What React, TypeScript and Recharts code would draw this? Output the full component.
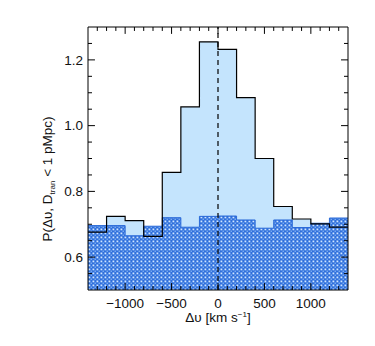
import { Area, ComposedChart, Line, ReferenceArea, ReferenceLine, XAxis, YAxis } from "recharts";

// bin left edges (km/s), last entry closes the final bin
const binEdges = [-1400, -1200, -1000, -800, -600, -400, -200, 0, 200, 400, 600, 800, 1000, 1200, 1400];
const allPairs = [0.676, 0.724, 0.711, 0.663, 0.858, 1.057, 1.255, 1.232, 1.085, 0.9, 0.754, 0.716, 0.701, 0.691];
const randomPairs = [0.696, 0.696, 0.665, 0.694, 0.72, 0.691, 0.724, 0.725, 0.713, 0.688, 0.713, 0.69, 0.703, 0.719];

const xTicks = [-1000, -500, 0, 500, 1000];
const xMinorTicks = [-1300, -1200, -1100, -900, -800, -700, -600, -400, -300, -200, -100, 100, 200, 300, 400, 600, 700, 800, 900, 1100, 1200, 1300];
const yTicks = [0.6, 0.8, 1.0, 1.2];
const yMinorTicks = [0.55, 0.65, 0.7, 0.75, 0.85, 0.9, 0.95, 1.05, 1.1, 1.15, 1.25];

const X_MIN = -1400;
const X_MAX = 1400;
const Y_MIN = 0.5;
const Y_MAX = 1.3;

const font = "'Liberation Sans', Arial, Helvetica, sans-serif";

const data = binEdges.map((x, i) => ({
  x,
  all: allPairs[Math.min(i, allPairs.length - 1)],
  rnd: randomPairs[Math.min(i, randomPairs.length - 1)],
}));

// tick lengths in data units (approx 7px major, 4px minor)
const xMajLen = 0.021;
const xMinLen = 0.012;
const yMajLen = 75;
const yMinLen = 43;

function tickSegments() {
  const out: any[] = [];
  xTicks.forEach((t) => {
    out.push([[{ x: t, y: Y_MIN }, { x: t, y: Y_MIN + xMajLen }], "xb" + t]);
    out.push([[{ x: t, y: Y_MAX }, { x: t, y: Y_MAX - xMajLen }], "xt" + t]);
  });
  xMinorTicks.forEach((t) => {
    out.push([[{ x: t, y: Y_MIN }, { x: t, y: Y_MIN + xMinLen }], "xbm" + t]);
    out.push([[{ x: t, y: Y_MAX }, { x: t, y: Y_MAX - xMinLen }], "xtm" + t]);
  });
  yTicks.forEach((t) => {
    out.push([[{ x: X_MIN, y: t }, { x: X_MIN + yMajLen, y: t }], "yl" + t]);
    out.push([[{ x: X_MAX, y: t }, { x: X_MAX - yMajLen, y: t }], "yr" + t]);
  });
  yMinorTicks.forEach((t) => {
    out.push([[{ x: X_MIN, y: t }, { x: X_MIN + yMinLen, y: t }], "ylm" + t]);
    out.push([[{ x: X_MAX, y: t }, { x: X_MAX - yMinLen, y: t }], "yrm" + t]);
  });
  return out;
}

export default function App() {
  return (
    <div style={{ position: "absolute", left: 0, top: 0, background: "#fff" }}>
      <ComposedChart width={375} height={346} data={data} margin={{ top: 27, right: 27, bottom: 26, left: 48 }}>
        <defs>
          <pattern id="hatch" width="4" height="4" patternUnits="userSpaceOnUse">
            <rect width="4" height="4" fill="#2f6fdc" />
            <rect x="0.5" y="0.5" width="1.8" height="1.8" fill="#cfe5ff" />
            <rect x="2.5" y="2.5" width="1.8" height="1.8" fill="#78aaf0" />
          </pattern>
        </defs>
        <XAxis
          dataKey="x"
          type="number"
          domain={[X_MIN, X_MAX]}
          ticks={xTicks}
          allowDataOverflow
          axisLine={false}
          tickLine={false}
          tickSize={0}
          tickMargin={8}
          height={30}
          tick={{ fontSize: 13.5, fill: "#111", fontFamily: font }}
          tickFormatter={(v) => String(v).replace("-", "\u2212")}
          label={{
            content: () => (
              <text x={218} y={322} textAnchor="middle" fontSize={13.5} fontFamily={font} fill="#111">
                Δυ [km s
                <tspan fontSize={8} dy={-5}>−1</tspan>
                <tspan dy={5}>]</tspan>
              </text>
            ),
          }}
        />
        <YAxis
          type="number"
          domain={[Y_MIN, Y_MAX]}
          ticks={yTicks}
          allowDataOverflow
          axisLine={false}
          tickLine={false}
          tickSize={0}
          tickMargin={5}
          width={40}
          tick={{ fontSize: 13.5, fill: "#111", fontFamily: font }}
          tickFormatter={(v) => Number(v).toFixed(1)}
          label={{
            content: () => (
              <text x={52} y={179} transform="rotate(-90 52 179)" textAnchor="middle" fontSize={13.5} fontFamily={font} fill="#111">
                P(Δυ, D
                <tspan fontSize={8} dy={3}>tran</tspan>
                <tspan dy={-3}> &lt; 1 pMpc)</tspan>
              </text>
            ),
          }}
        />
        <Area
          dataKey="all"
          type="stepAfter"
          baseValue={Y_MIN}
          fill="#c4e4fd"
          fillOpacity={1}
          stroke="none"
          isAnimationActive={false}
        />
        <Area
          dataKey="rnd"
          type="stepAfter"
          baseValue={Y_MIN}
          fill="url(#hatch)"
          fillOpacity={1}
          stroke="#2a6ad8"
          strokeWidth={1}
          isAnimationActive={false}
        />
        <Line
          dataKey="all"
          type="stepAfter"
          stroke="#000"
          strokeWidth={1.2}
          dot={false}
          isAnimationActive={false}
        />
        <ReferenceLine x={0} stroke="#000" strokeWidth={1.2} strokeDasharray="5 4" />
        {tickSegments().map(([seg, key]) => (
          <ReferenceLine key={key} segment={seg} stroke="#000" strokeWidth={1} />
        ))}
        <ReferenceArea x1={X_MIN} x2={X_MAX} y1={Y_MIN} y2={Y_MAX} fill="none" stroke="#000" strokeWidth={1} />
      </ComposedChart>
    </div>
  );
}
